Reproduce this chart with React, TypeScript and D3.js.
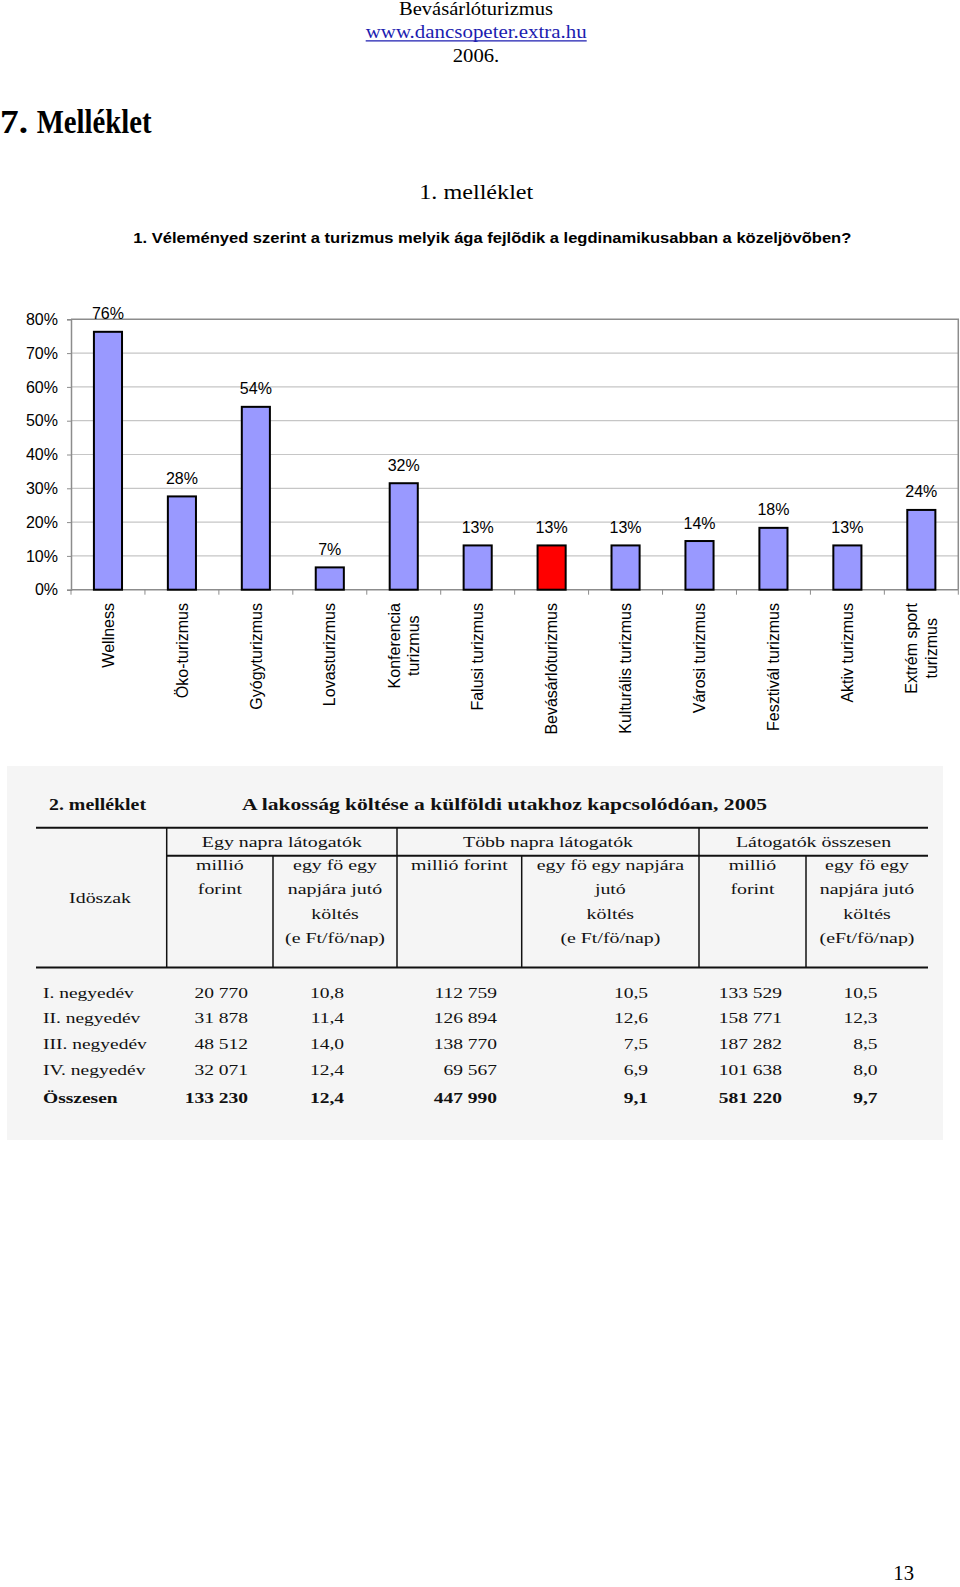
import React, { useEffect, useRef } from "react";
import * as d3 from "d3";

// ---------- chart data ----------
const categories = [
  "Wellness",
  "Öko-turizmus",
  "Gyógyturizmus",
  "Lovasturizmus",
  "Konferencia\nturizmus",
  "Falusi turizmus",
  "Bevásárlóturizmus",
  "Kulturális turizmus",
  "Városi turizmus",
  "Fesztivál turizmus",
  "Aktiv turizmus",
  "Extrém sport\nturizmus",
];
const values = [0.763, 0.276, 0.541, 0.066, 0.315, 0.131, 0.131, 0.131, 0.144, 0.183, 0.131, 0.236];
const highlighted = "Bevásárlóturizmus";
const yTicks = [0, 0.1, 0.2, 0.3, 0.4, 0.5, 0.6, 0.7, 0.8];

// ---------- table data ----------
const rowLabels = ["I. negyedév", "II. negyedév", "III. negyedév", "IV. negyedév", "Összesen"];
const egyNapraMFt = ["20 770", "31 878", "48 512", "32 071", "133 230"];
const egyNapraPerFo = ["10,8", "11,4", "14,0", "12,4", "12,4"];
const tobbNapraMFt = ["112 759", "126 894", "138 770", "69 567", "447 990"];
const tobbNapraPerFo = ["10,5", "12,6", "7,5", "6,9", "9,1"];
const osszesMFt = ["133 529", "158 771", "187 282", "101 638", "581 220"];
const osszesPerFo = ["10,5", "12,3", "8,5", "8,0", "9,7"];
const groupHeaders = ["Egy napra látogatók", "Több napra látogatók", "Látogatók összesen"];
const subHeaders = [
  ["millió", "forint"],
  ["egy fö egy", "napjára jutó", "költés", "(e Ft/fö/nap)"],
  ["millió forint"],
  ["egy fö egy napjára", "jutó", "költés", "(e Ft/fö/nap)"],
  ["millió", "forint"],
  ["egy fö egy", "napjára jutó", "költés", "(eFt/fö/nap)"],
];

const SERIF = "'Liberation Serif', 'Times New Roman', serif";
const SANS = "'Liberation Sans', Arial, sans-serif";

function Chart() {
  const ref = useRef<SVGGElement>(null);
  useEffect(() => {
    const g = d3.select(ref.current);
    g.selectAll("*").remove();
    const x0 = 71, x1 = 958.3, yTop = 319.3, yBot = 589.7;
    const x = d3.scaleBand<string>().domain(categories).range([x0, x1]).paddingInner(0.62).paddingOuter(0.31);
    const y = d3.scaleLinear().domain([0, 0.8]).range([yBot, yTop]);
    const step = x.step();

    // gridlines
    g.append("g")
      .selectAll("line")
      .data(yTicks.filter((t) => t > 0 && t < 0.8))
      .join("line")
      .attr("x1", x0).attr("x2", x1)
      .attr("y1", (d) => y(d)).attr("y2", (d) => y(d))
      .attr("stroke", "#c6c6c6").attr("stroke-width", 1.2);

    // plot border (top, right)
    g.append("path")
      .attr("d", `M${x0},${yTop}H${x1}V${yBot}`)
      .attr("fill", "none").attr("stroke", "#8c8c8c").attr("stroke-width", 1.5);

    // y axis
    const yAxis = d3.axisLeft(y).tickValues(yTicks).tickFormat(d3.format(".0%")).tickSize(4).tickPadding(9);
    const ya = g.append("g").attr("transform", `translate(${x0},0)`).call(yAxis);
    ya.select(".domain").attr("stroke", "#8c8c8c").attr("stroke-width", 1.5);
    ya.selectAll(".tick line").attr("stroke", "#8c8c8c");
    ya.selectAll(".tick text").attr("font-family", SANS).attr("font-size", 16).attr("fill", "#000");

    // x axis line + boundary ticks
    g.append("line").attr("x1", x0).attr("x2", x1).attr("y1", yBot).attr("y2", yBot)
      .attr("stroke", "#8c8c8c").attr("stroke-width", 1.5);
    g.append("g").selectAll("line")
      .data(d3.range(categories.length + 1))
      .join("line")
      .attr("x1", (i) => x0 + i * step).attr("x2", (i) => x0 + i * step)
      .attr("y1", yBot).attr("y2", yBot + 5)
      .attr("stroke", "#8c8c8c").attr("stroke-width", 1);

    // bars
    g.append("g").selectAll("rect")
      .data(categories)
      .join("rect")
      .attr("x", (c) => x(c)!)
      .attr("width", x.bandwidth())
      .attr("y", (c, i) => y(values[i]))
      .attr("height", (c, i) => yBot - y(values[i]))
      .attr("fill", (c) => (c.replace("\n", " ") === highlighted ? "#ff0000" : "#9999ff"))
      .attr("stroke", "#000").attr("stroke-width", 2);

    // data labels
    g.append("g").selectAll("text")
      .data(categories)
      .join("text")
      .attr("x", (c) => x(c)! + x.bandwidth() / 2)
      .attr("y", (c, i) => y(values[i]) - 12.5)
      .attr("text-anchor", "middle")
      .attr("font-family", SANS).attr("font-size", 16)
      .text((c, i) => d3.format(".0%")(values[i]));

    // category labels, rotated
    const labelTop = 603;
    const lh = 19.3;
    categories.forEach((c) => {
      const lines = c.split("\n");
      const cx = x(c)! + x.bandwidth() / 2;
      const lg = g.append("g").attr("transform", `translate(${cx},${labelTop}) rotate(-90)`);
      const texts = lines.map((ln, i) =>
        lg.append("text")
          .attr("y", (i - (lines.length - 1) / 2) * lh + 5.7)
          .attr("font-family", SANS).attr("font-size", 16)
          .text(ln)
      );
      if (lines.length === 1) {
        texts[0].attr("x", 0).attr("text-anchor", "end");
      } else {
        const maxLen = d3.max(texts, (t) => (t.node() as SVGTextElement).getComputedTextLength()) || 0;
        texts.forEach((t) => t.attr("x", -maxLen / 2).attr("text-anchor", "middle"));
      }
    });
  }, []);
  return <g ref={ref} />;
}

function Table() {
  const SX = 1.3;
  const T = (props: { x: number; y: number; anchor?: string; size?: number; bold?: boolean; children: string }) => (
    <text
      transform={`translate(${props.x},${props.y}) scale(${SX},1)`}
      textAnchor={props.anchor || "start"}
      fontFamily={SERIF}
      fontSize={props.size || 15.3}
      fontWeight={props.bold ? "bold" : "normal"}
      fill="#111"
    >
      {props.children}
    </text>
  );
  const vx = [166.7, 273, 397, 521.7, 699, 806];
  const left = 36, right = 928;
  const yTopLine = 827.7, yMid = 855.7, yHead = 967.5;
  const groupBounds = [[166.7, 397], [397, 699], [699, 928]];
  const colBounds = [[166.7, 273], [273, 397], [397, 521.7], [521.7, 699], [699, 806], [806, 928]];
  const rowY = [997.7, 1023, 1049, 1075, 1103];
  const colRight = [248, 344, 497, 648, 782, 877.5];
  const cols = [egyNapraMFt, egyNapraPerFo, tobbNapraMFt, tobbNapraPerFo, osszesMFt, osszesPerFo];
  return (
    <g>
      <rect x={7} y={766} width={936} height={374} fill="#f5f5f5" />
      <text x={49} y={810} fontFamily={SERIF} fontWeight="bold" fontSize={16} textLength={97} lengthAdjust="spacingAndGlyphs" fill="#111">
        2. melléklet
      </text>
      <text x={242} y={810} fontFamily={SERIF} fontWeight="bold" fontSize={16.5} textLength={525} lengthAdjust="spacingAndGlyphs" fill="#111">
        A lakosság költése a külföldi utakhoz kapcsolódóan, 2005
      </text>
      <line x1={left} x2={right} y1={yTopLine} y2={yTopLine} stroke="#111" strokeWidth={2} />
      <line x1={vx[0]} x2={right} y1={yMid} y2={yMid} stroke="#111" strokeWidth={2} />
      <line x1={left} x2={right} y1={yHead} y2={yHead} stroke="#111" strokeWidth={2} />
      {vx.map((v, i) => (
        <line key={i} x1={v} x2={v} y1={i % 2 === 0 ? yTopLine : yMid} y2={yHead} stroke="#111" strokeWidth={1.5} />
      ))}
      {groupHeaders.map((h, i) => (
        <T key={h} x={(groupBounds[i][0] + groupBounds[i][1]) / 2} y={847} anchor="middle">{h}</T>
      ))}
      {subHeaders.map((lines, ci) =>
        lines.map((ln, li) => (
          <T key={ci + "-" + li} x={(colBounds[ci][0] + colBounds[ci][1]) / 2} y={869.5 + li * 24.5} anchor="middle">{ln}</T>
        ))
      )}
      <T x={100} y={903.3} anchor="middle">Idöszak</T>
      {rowLabels.map((r, ri) => (
        <T key={r} x={43} y={rowY[ri]} size={15} bold={ri === rowLabels.length - 1}>{r}</T>
      ))}
      {cols.map((col, ci) =>
        col.map((v, ri) => (
          <T key={ci + "-" + ri} x={colRight[ci]} y={rowY[ri]} anchor="end" size={15} bold={ri === rowLabels.length - 1}>{v}</T>
        ))
      )}
    </g>
  );
}

export default function App() {
  return (
    <svg
      width={960}
      height={1587}
      viewBox="0 0 960 1587"
      style={{ position: "absolute", left: 0, top: 0, display: "block", background: "#fff" }}
    >
      <rect x={0} y={0} width={960} height={1587} fill="#fff" />
      <text x={399} y={15} fontFamily={SERIF} fontSize={18.5} textLength={154} lengthAdjust="spacingAndGlyphs">Bevásárlóturizmus</text>
      <text x={365.7} y={38.3} fontFamily={SERIF} fontSize={18.5} fill="#1c1cb0" textLength={221} lengthAdjust="spacingAndGlyphs">www.dancsopeter.extra.hu</text>
      <line x1={365.7} x2={586.7} y1={40.8} y2={40.8} stroke="#1c1cb0" strokeWidth={1.2} />
      <text x={452.7} y={61.7} fontFamily={SERIF} fontSize={18.5} textLength={46.6} lengthAdjust="spacingAndGlyphs">2006.</text>
      <text x={0} y={133.3} fontFamily={SERIF} fontWeight="bold" fontSize={34} textLength={28} lengthAdjust="spacingAndGlyphs">7.</text>
      <text x={36.7} y={133.3} fontFamily={SERIF} fontWeight="bold" fontSize={34} textLength={115} lengthAdjust="spacingAndGlyphs">Melléklet</text>
      <text x={419.3} y={199.3} fontFamily={SERIF} fontSize={22} textLength={114} lengthAdjust="spacingAndGlyphs">1. melléklet</text>
      <text x={133.3} y={243.3} fontFamily={SANS} fontWeight="bold" fontSize={15.5} textLength={718} lengthAdjust="spacingAndGlyphs">
        1. Véleményed szerint a turizmus melyik ága fejlõdik a legdinamikusabban a közeljövõben?
      </text>
      <Chart />
      <Table />
      <text x={893.3} y={1580} fontFamily={SERIF} fontSize={21} textLength={20.7} lengthAdjust="spacingAndGlyphs">13</text>
    </svg>
  );
}
